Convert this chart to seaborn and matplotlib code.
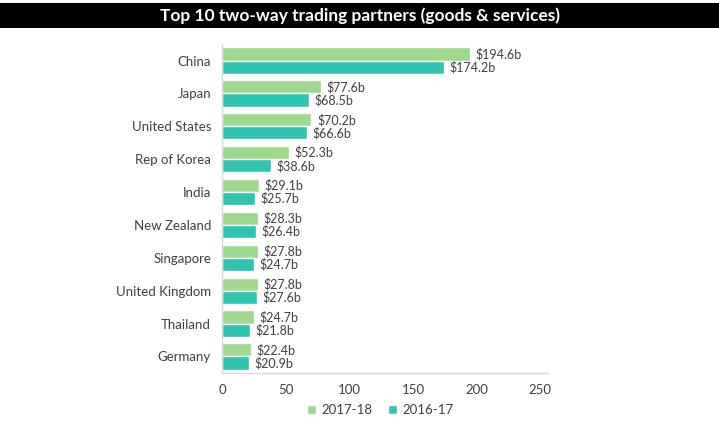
import pandas as pd
import matplotlib.pyplot as plt
from matplotlib.patches import Rectangle
import seaborn as sns

countries = ["China", "Japan", "United States", "Rep of Korea", "India",
             "New Zealand", "Singapore", "United Kingdom", "Thailand", "Germany"]
fy_2017_18 = [194.6, 77.6, 70.2, 52.3, 29.1, 28.3, 27.8, 27.8, 24.7, 22.4]
fy_2016_17 = [174.2, 68.5, 66.6, 38.6, 25.7, 26.4, 24.7, 27.6, 21.8, 20.9]
years = ["2017-18", "2016-17"]
colors = ["#9dd88d", "#2ec4b1"]

df = pd.DataFrame({
    "country": countries * 2,
    "value": fy_2017_18 + fy_2016_17,
    "year": [years[0]] * len(countries) + [years[1]] * len(countries),
})

sns.set_style("white")
plt.rcParams["font.family"] = ["Lato", "DejaVu Sans"]

fig = plt.figure(figsize=(7.19, 4.29), dpi=100)
ax = fig.add_axes([0.309, 0.131, 0.453, 0.766])

sns.barplot(data=df, x="value", y="country", hue="year", orient="h",
            palette=colors, width=0.8, ax=ax, saturation=1)

for cont in ax.containers:
    ax.bar_label(cont, labels=[f"${v:.1f}b" for v in cont.datavalues],
                 padding=4, fontsize=9, color="#404040")

ax.set_xlim(0, 256)
ax.set_xticks([0, 50, 100, 150, 200, 250])
ax.set_xlabel("")
ax.set_ylabel("")
ax.tick_params(axis="both", length=0, labelsize=9.5, colors="#404040")
ax.tick_params(axis="y", pad=8)
ax.tick_params(axis="x", pad=8)
for side in ["top", "right"]:
    ax.spines[side].set_visible(False)
for side in ["left", "bottom"]:
    ax.spines[side].set_color("#d9d9d9")
    ax.spines[side].set_linewidth(1)

ax.legend(loc="upper center", bbox_to_anchor=(0.485, -0.06), ncol=2,
          frameon=False, fontsize=9.5, handlelength=0.7, handleheight=0.7,
          columnspacing=1.2, handletextpad=0.4, labelcolor="#404040")

# black title bar
fig.patches.append(Rectangle((0, 0.935), 1, 0.058, transform=fig.transFigure,
                             facecolor="black", edgecolor="none"))
fig.text(0.5, 0.964, "Top 10 two-way trading partners (goods & services)",
         ha="center", va="center", color="white", fontsize=12.5, fontweight="bold")

fig.savefig("out.png", dpi=100)
